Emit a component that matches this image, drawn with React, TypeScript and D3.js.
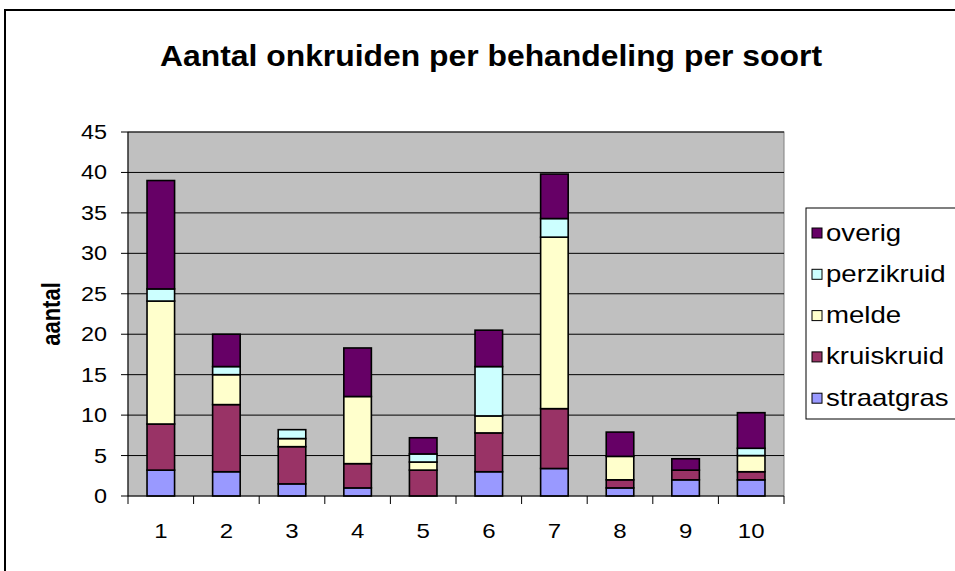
import * as d3 from "d3";

const categories = ["1", "2", "3", "4", "5", "6", "7", "8", "9", "10"];
const seriesNames = ["straatgras", "kruiskruid", "melde", "perzikruid", "overig"];
const straatgras = [3.2, 3, 1.5, 1, 0, 3, 3.4, 1, 2, 2];
const kruiskruid = [5.7, 8.3, 4.6, 3, 3.2, 4.8, 7.4, 1, 1.2, 1];
const melde = [15.2, 3.7, 1, 8.3, 1, 2.1, 21.2, 2.9, 0, 2];
const perzikruid = [1.5, 1, 1.1, 0, 1, 6.1, 2.3, 0, 0, 0.9];
const overig = [13.4, 4, 0, 6, 2, 4.5, 5.5, 3, 1.4, 4.4];
const colors = ["#9999FF", "#993366", "#FFFFCC", "#CCFFFF", "#660066"];
const yTicks = [0, 5, 10, 15, 20, 25, 30, 35, 40, 45];

const font = "'Liberation Sans', Arial, sans-serif";
// the picture is a little wider than it is tall, text included
const sx = 1.2;

const App = () => {
  const W = 955;
  const H = 571;
  const left = 128, right = 784, top = 132, bottom = 496;

  const rows = categories.map((c, i) => ({
    cat: c,
    straatgras: straatgras[i],
    kruiskruid: kruiskruid[i],
    melde: melde[i],
    perzikruid: perzikruid[i],
    overig: overig[i],
  }));
  const stacked = d3.stack<any>().keys(seriesNames)(rows);

  const x = d3.scaleBand().domain(categories).range([left, right]).padding(0);
  const y = d3.scaleLinear().domain([0, 45]).range([bottom, top]);
  const barW = x.bandwidth() * 0.42;

  // category boundaries for x ticks
  const bounds = categories.map((c) => x(c)!).concat([right]);

  return (
    <svg width={W} height={H} style={{ display: "block", position: "absolute", left: 0, top: 0 }}>
      <rect x={0} y={0} width={W} height={H} fill="#fff" />
      {/* outer chart frame */}
      <rect x={5} y={10} width={W + 20} height={H + 20} fill="none" stroke="#000" strokeWidth={2} />
      <text
        x={491}
        y={66}
        textAnchor="middle"
        fontFamily={font}
        fontWeight="bold"
        fontSize={30}
        textLength={662}
        lengthAdjust="spacingAndGlyphs"
      >
        Aantal onkruiden per behandeling per soort
      </text>

      {/* plot area */}
      <rect x={left} y={top} width={right - left} height={bottom - top} fill="#C0C0C0" stroke="#808080" strokeWidth={1} />
      {yTicks.slice(1).map((t) => (
        <line key={t} x1={left} x2={right} y1={y(t)} y2={y(t)} stroke="#000" strokeWidth={1} />
      ))}

      {/* bars */}
      {stacked.map((s, si) => (
        <g key={seriesNames[si]} fill={colors[si]} stroke="#000" strokeWidth={1.6}>
          {s.map((d, i) =>
            d[1] - d[0] > 0 ? (
              <rect
                key={i}
                x={x(categories[i])! + (x.bandwidth() - barW) / 2}
                y={y(d[1])}
                width={barW}
                height={y(d[0]) - y(d[1])}
              />
            ) : null
          )}
        </g>
      ))}

      {/* axes */}
      <line x1={left} x2={left} y1={top} y2={bottom} stroke="#000" strokeWidth={1} />
      <line x1={left} x2={right} y1={bottom} y2={bottom} stroke="#000" strokeWidth={1} />
      {yTicks.map((t) => (
        <g key={t}>
          <line x1={left - 7} x2={left} y1={y(t)} y2={y(t)} stroke="#000" />
          <text
            transform={`translate(${left - 21},${y(t) + 7}) scale(${sx},1)`}
            textAnchor="end"
            fontFamily={font}
            fontSize={19.5}
          >
            {t}
          </text>
        </g>
      ))}
      {bounds.map((b, i) => (
        <line key={i} x1={b} x2={b} y1={bottom} y2={bottom + 8} stroke="#000" />
      ))}
      {categories.map((c) => (
        <text
          key={c}
          transform={`translate(${x(c)! + x.bandwidth() / 2},${538}) scale(${sx},1)`}
          textAnchor="middle"
          fontFamily={font}
          fontSize={20}
        >
          {c}
        </text>
      ))}
      <text
        transform={`translate(60,${(top + bottom) / 2}) scale(${sx},1) rotate(-90)`}
        textAnchor="middle"
        fontFamily={font}
        fontWeight="bold"
        fontSize={22}
      >
        aantal
      </text>

      {/* legend */}
      <rect x={806} y={208} width={170} height={211} fill="#fff" stroke="#000" strokeWidth={1} />
      {seriesNames
        .slice()
        .reverse()
        .map((name, i) => {
          const ci = seriesNames.length - 1 - i;
          const cy = 233 + i * 41.3;
          return (
            <g key={name}>
              <rect x={812} y={cy - 5} width={10} height={10} fill={colors[ci]} stroke="#000" strokeWidth={1} />
              <text
                transform={`translate(826,${cy + 7.5}) scale(${sx},1)`}
                fontFamily={font}
                fontSize={23}
              >
                {name}
              </text>
            </g>
          );
        })}
    </svg>
  );
};

export default App;
